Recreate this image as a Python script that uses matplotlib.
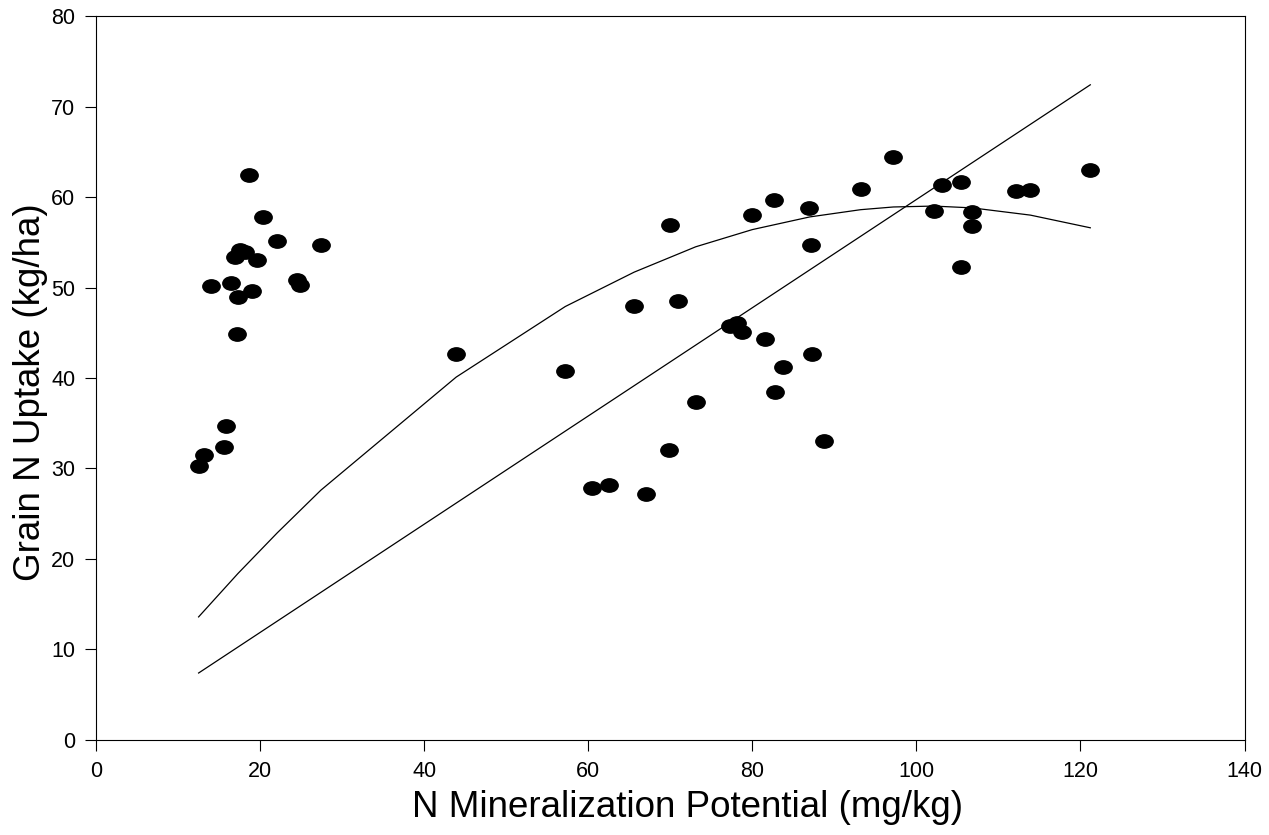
import matplotlib
matplotlib.use("Agg")
import matplotlib.pyplot as plt
import numpy as np
from matplotlib.path import Path
from matplotlib.transforms import Affine2D

# N mineralization potential (mg/kg) vs grain N uptake (kg/ha)
nmp = [12.5, 13.2, 15.6, 15.8, 17.2, 14.0, 16.5, 19.0, 17.3, 24.5, 24.8,
       16.9, 17.6, 18.2, 19.6, 18.6, 20.3, 22.1, 27.4,
       43.9, 57.2, 60.5, 62.5, 67.1, 65.6, 70.9, 69.8, 70.0, 73.1,
       77.3, 78.1, 78.8, 80.0, 81.5, 82.7, 82.8, 83.7, 86.9, 87.1, 87.3,
       88.7, 93.2, 97.2, 102.1, 103.1, 105.4, 105.4, 106.8, 106.8,
       112.2, 113.9, 121.2]
uptake = [30.3, 31.5, 32.4, 34.7, 44.9, 50.2, 50.5, 49.6, 49.0, 50.8, 50.3,
          53.4, 54.1, 53.9, 53.0, 62.4, 57.8, 55.1, 54.7,
          42.7, 40.8, 27.9, 28.2, 27.2, 48.0, 48.5, 32.0, 56.9, 37.3,
          45.7, 46.1, 45.1, 58.0, 44.3, 59.7, 38.4, 41.2, 58.8, 54.7, 42.6,
          33.0, 60.9, 64.4, 58.4, 61.3, 61.7, 52.3, 58.3, 56.8,
          60.7, 60.8, 63.0]

# fitted lines as traced on the figure
quad_x = [12.5, 17.3, 22.1, 27.4, 43.9, 57.2, 65.6, 73.1, 80.0, 87.0,
          93.2, 97.2, 102.1, 106.8, 113.9, 121.2]
quad_y = [13.6, 18.4, 22.9, 27.6, 40.1, 47.9, 51.7, 54.5, 56.4, 57.8,
          58.6, 58.9, 59.0, 58.8, 58.0, 56.6]
lin_x = [12.5, 121.2]
lin_y = [7.4, 72.4]

plt.rcParams['font.family'] = ['Liberation Sans', 'DejaVu Sans']

fig = plt.figure(figsize=(12.69, 8.35), dpi=100)
ax = fig.add_axes([0.0757, 0.1138, 0.905, 0.867])

# wide ellipse marker
ell = Path.unit_circle().transformed(Affine2D().scale(1.3, 1.0))

ax.plot(quad_x, quad_y, color='black', lw=0.9)
ax.plot(lin_x, lin_y, color='black', lw=0.9)
ax.scatter(nmp, uptake, marker=ell, s=12.5**2, color='black', zorder=3)

ax.set_xlim(0, 140)
ax.set_ylim(0, 80)
ax.set_xticks(np.arange(0, 141, 20))
ax.set_yticks(np.arange(0, 81, 10))
ax.tick_params(direction='out', length=8, width=0.8, labelsize=15.5, pad=7)
for s in ax.spines.values():
    s.set_linewidth(0.8)

ax.set_xlabel('N Mineralization Potential (mg/kg)', fontsize=26.5, labelpad=6)
ax.set_ylabel('Grain N Uptake (kg/ha)', fontsize=26.5, labelpad=2)
ax.xaxis.label.set_x(0.515)
ax.yaxis.label.set_y(0.48)

fig.savefig('out.png', dpi=100)
